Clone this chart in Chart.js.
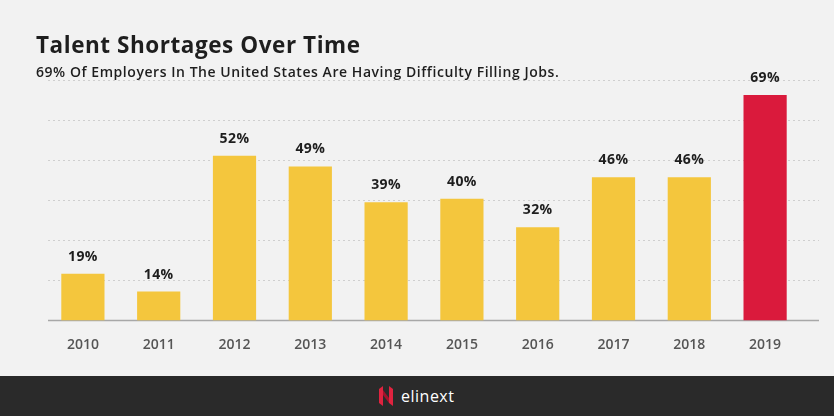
<!DOCTYPE html>
<html>
<head>
<meta charset="utf-8">
<script src="https://cdn.jsdelivr.net/npm/chart.js@4.4.1/dist/chart.umd.min.js"></script>
<style>
  html,body{margin:0;padding:0;background:#f2f2f2;}
  #wrap{position:relative;width:834px;height:416px;overflow:hidden;font-family:"Open Sans",sans-serif;}
  #title{position:absolute;left:36px;top:29px;font-size:22.5px;font-weight:700;color:#1e1e1e;letter-spacing:0.55px;}
  #subtitle{position:absolute;left:36px;top:62px;font-size:14px;font-weight:600;color:#1e1e1e;letter-spacing:0.55px;}
  #chartBox{position:absolute;left:0;top:0;width:834px;height:376px;}
  #footer{position:absolute;left:0;top:376px;width:834px;height:40px;background:#2a2a2a;}
  #logo{position:absolute;left:379px;top:9px;height:22px;display:flex;align-items:center;}
  #logo .mark{width:14px;height:20px;margin-right:8px;}
  #logo .txt{color:#fff;font-size:16px;letter-spacing:0.5px;font-family:"Open Sans",sans-serif;}
</style>
</head>
<body>
<div id="wrap">
  <div id="chartBox"><canvas id="chart" width="834" height="376"></canvas></div>
  <div id="title">Talent Shortages Over Time</div>
  <div id="subtitle">69% Of Employers In The United States Are Having Difficulty Filling Jobs.</div>
  <div id="footer">
    <div id="logo">
      <svg class="mark" viewBox="0 0 14 20"><path d="M0 3 L4 0 L4 20 L0 17 Z" fill="#e0233f"/><path d="M10 0 L14 3 L14 20 L10 17 Z" fill="#e0233f"/><path d="M4 4 L10 12 L10 17 L4 9 Z" fill="#a3122a"/></svg>
      <span class="txt">elinext</span>
    </div>
  </div>
</div>
<script>
const years = ["2010","2011","2012","2013","2014","2015","2016","2017","2018","2019"];
const shortage = [19, 14, 52, 49, 39, 40, 32, 46, 46, 69];
const barColors = ["#f4c63d","#f4c63d","#f4c63d","#f4c63d","#f4c63d","#f4c63d","#f4c63d","#f4c63d","#f4c63d","#da1a3c"];
const gridTicks = [6, 17.2, 28.4, 39.6, 50.8, 62, 73.2];

// dotted grid across full width + solid baseline
const gridPlugin = {
  id: "gridLines",
  beforeDatasetsDraw(chart){
    const {ctx, scales:{y}} = chart;
    ctx.save();
    gridTicks.forEach((t,i)=>{
      const py = Math.round(y.getPixelForValue(t)) + 0.5;
      if(i === 0){
        ctx.setLineDash([]);
        ctx.strokeStyle = "#a8a8a8";
        ctx.lineWidth = 1.5;
      } else {
        ctx.setLineDash([2,3]);
        ctx.strokeStyle = "#cfcfcf";
        ctx.lineWidth = 1;
      }
      ctx.beginPath(); ctx.moveTo(48, py); ctx.lineTo(819, py); ctx.stroke();
    });
    ctx.restore();
  }
};

const labelPlugin = {
  id: "valueLabels",
  afterDatasetsDraw(chart){
    const {ctx} = chart;
    ctx.save();
    ctx.font = "700 14px 'Open Sans', sans-serif";
    ctx.letterSpacing = "0.4px";
    ctx.fillStyle = "#1e1e1e";
    ctx.textAlign = "center";
    ctx.textBaseline = "middle";
    chart.getDatasetMeta(0).data.forEach((bar,i)=>{
      ctx.fillText(shortage[i] + "%", bar.x, bar.y - 17);
    });
    ctx.restore();
  }
};

new Chart(document.getElementById("chart"), {
  type: "bar",
  data: { labels: years, datasets: [{ data: shortage, backgroundColor: barColors, borderWidth: 0, categoryPercentage: 1, barPercentage: 0.57 }] },
  options: {
    responsive: false,
    animation: false,
    layout: { padding: { left: 45, right: 31, top: 80, bottom: 15 } },
    plugins: { legend: { display: false }, tooltip: { enabled: false } },
    scales: {
      x: {
        grid: { display: false }, border: { display: false },
        ticks: { color: "#555", padding: 8, font: { family: "'Open Sans', sans-serif", size: 14, weight: "600" } }
      },
      y: {
        display: false, min: 6, max: 73.2,
        afterBuildTicks(axis){ axis.ticks = gridTicks.map(v=>({value:v})); }
      }
    }
  },
  plugins: [gridPlugin, labelPlugin]
});
</script>
</body>
</html>
